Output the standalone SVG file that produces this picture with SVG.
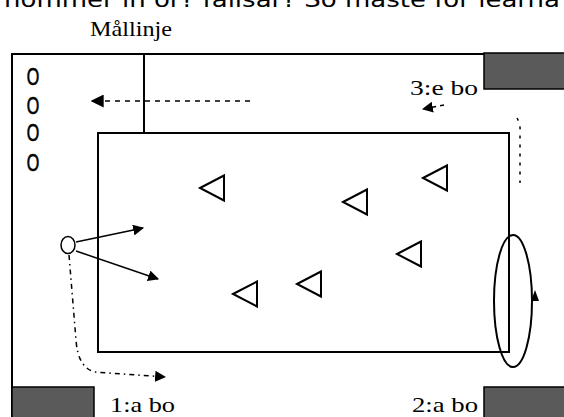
<svg xmlns="http://www.w3.org/2000/svg" width="564" height="417" viewBox="0 0 564 417">
<style>
.frame{fill:none;stroke:#000;stroke-width:2}
.box{fill:#5a5a5a;stroke:#000;stroke-width:1.5}
.tri{fill:none;stroke:#000;stroke-width:2}
.lbl{font-family:"Liberation Serif",serif;font-size:21px;fill:#000}
.o{font-family:"Liberation Sans",sans-serif;font-size:23px;fill:#000;stroke:#000;stroke-width:0.7;text-anchor:middle}
.arr{fill:none;stroke:#000;stroke-width:1.5}
</style>
<defs>
<marker id="ah" viewBox="0 0 10 10" refX="9" refY="5" markerWidth="11" markerHeight="11" markerUnits="userSpaceOnUse" orient="auto"><path d="M0,0 L10,5 L0,10 z" fill="#000"/></marker>
<marker id="ahs" viewBox="0 0 10 10" refX="9" refY="5" markerWidth="13" markerHeight="13" markerUnits="userSpaceOnUse" orient="auto"><path d="M0,0 L10,5 L0,10 z" fill="#000"/></marker>
<polygon id="t" points="0,0 24,-12.5 24,12.5"/>
</defs>
<rect width="564" height="417" fill="#fff"/>
<text x="4" y="7" font-family="DejaVu Sans, sans-serif" font-size="21" textLength="556" lengthAdjust="spacingAndGlyphs">nommer  in  or?  fallsar?  So maste for learna</text>
<g id="field">
<path class="frame" d="M12,417 V54 H484"/>
<line class="frame" x1="144" y1="54" x2="144" y2="133"/>
<rect class="frame" x="98" y="133" width="411" height="219"/>
</g>
<g id="bases">
<rect class="box" x="484" y="53" width="82" height="36"/>
<rect class="box" x="12" y="387" width="82" height="32"/>
<rect class="box" x="484" y="387" width="82" height="32"/>
</g>
<g id="labels">
<text class="lbl" x="90" y="36" textLength="82" lengthAdjust="spacingAndGlyphs">Mållinje</text>
<text class="lbl" x="410" y="95" textLength="68" lengthAdjust="spacingAndGlyphs">3:e bo</text>
<text class="lbl" x="110" y="412" textLength="65" lengthAdjust="spacingAndGlyphs">1:a bo</text>
<text class="lbl" x="412" y="412" textLength="66" lengthAdjust="spacingAndGlyphs">2:a bo</text>
</g>
<g id="queue" transform="scale(0.7,1)">
<text class="o" x="47" y="85">O</text>
<text class="o" x="47" y="114">O</text>
<text class="o" x="47" y="141">O</text>
<text class="o" x="47" y="171">O</text>
</g>
<g id="fielders" class="tri">
<use href="#t" x="200" y="188"/>
<use href="#t" x="343" y="202"/>
<use href="#t" x="423" y="178"/>
<use href="#t" x="397" y="254"/>
<use href="#t" x="297" y="284"/>
<use href="#t" x="233" y="294"/>
</g>
<g id="batter">
<ellipse cx="68" cy="245" rx="7" ry="8.5" fill="#fff" stroke="#000" stroke-width="1.5"/>
</g>
<g id="connectors">
<line class="arr" x1="76" y1="242" x2="143" y2="228" marker-end="url(#ah)"/>
<line class="arr" x1="76" y1="251" x2="158" y2="279" marker-end="url(#ah)"/>
<path class="arr" d="M69,255 L76,340 Q78,368 95,372 L165,377" stroke-dasharray="5,4,1.5,4" marker-end="url(#ah)"/>
<line class="arr" x1="250" y1="101" x2="92" y2="101" stroke-dasharray="5,5" marker-end="url(#ahs)"/>
<line class="arr" x1="444" y1="105" x2="423" y2="109" stroke-dasharray="4,4" marker-end="url(#ah)"/>
<path class="arr" d="M517,118 Q521,125 520,135 L520,183" stroke-dasharray="3,6"/>
<ellipse cx="513" cy="301" rx="19" ry="66" fill="none" stroke="#000" stroke-width="2"/>
<path d="M531,301 L535,290 L539,301 z" fill="#000"/>
</g>
</svg>
